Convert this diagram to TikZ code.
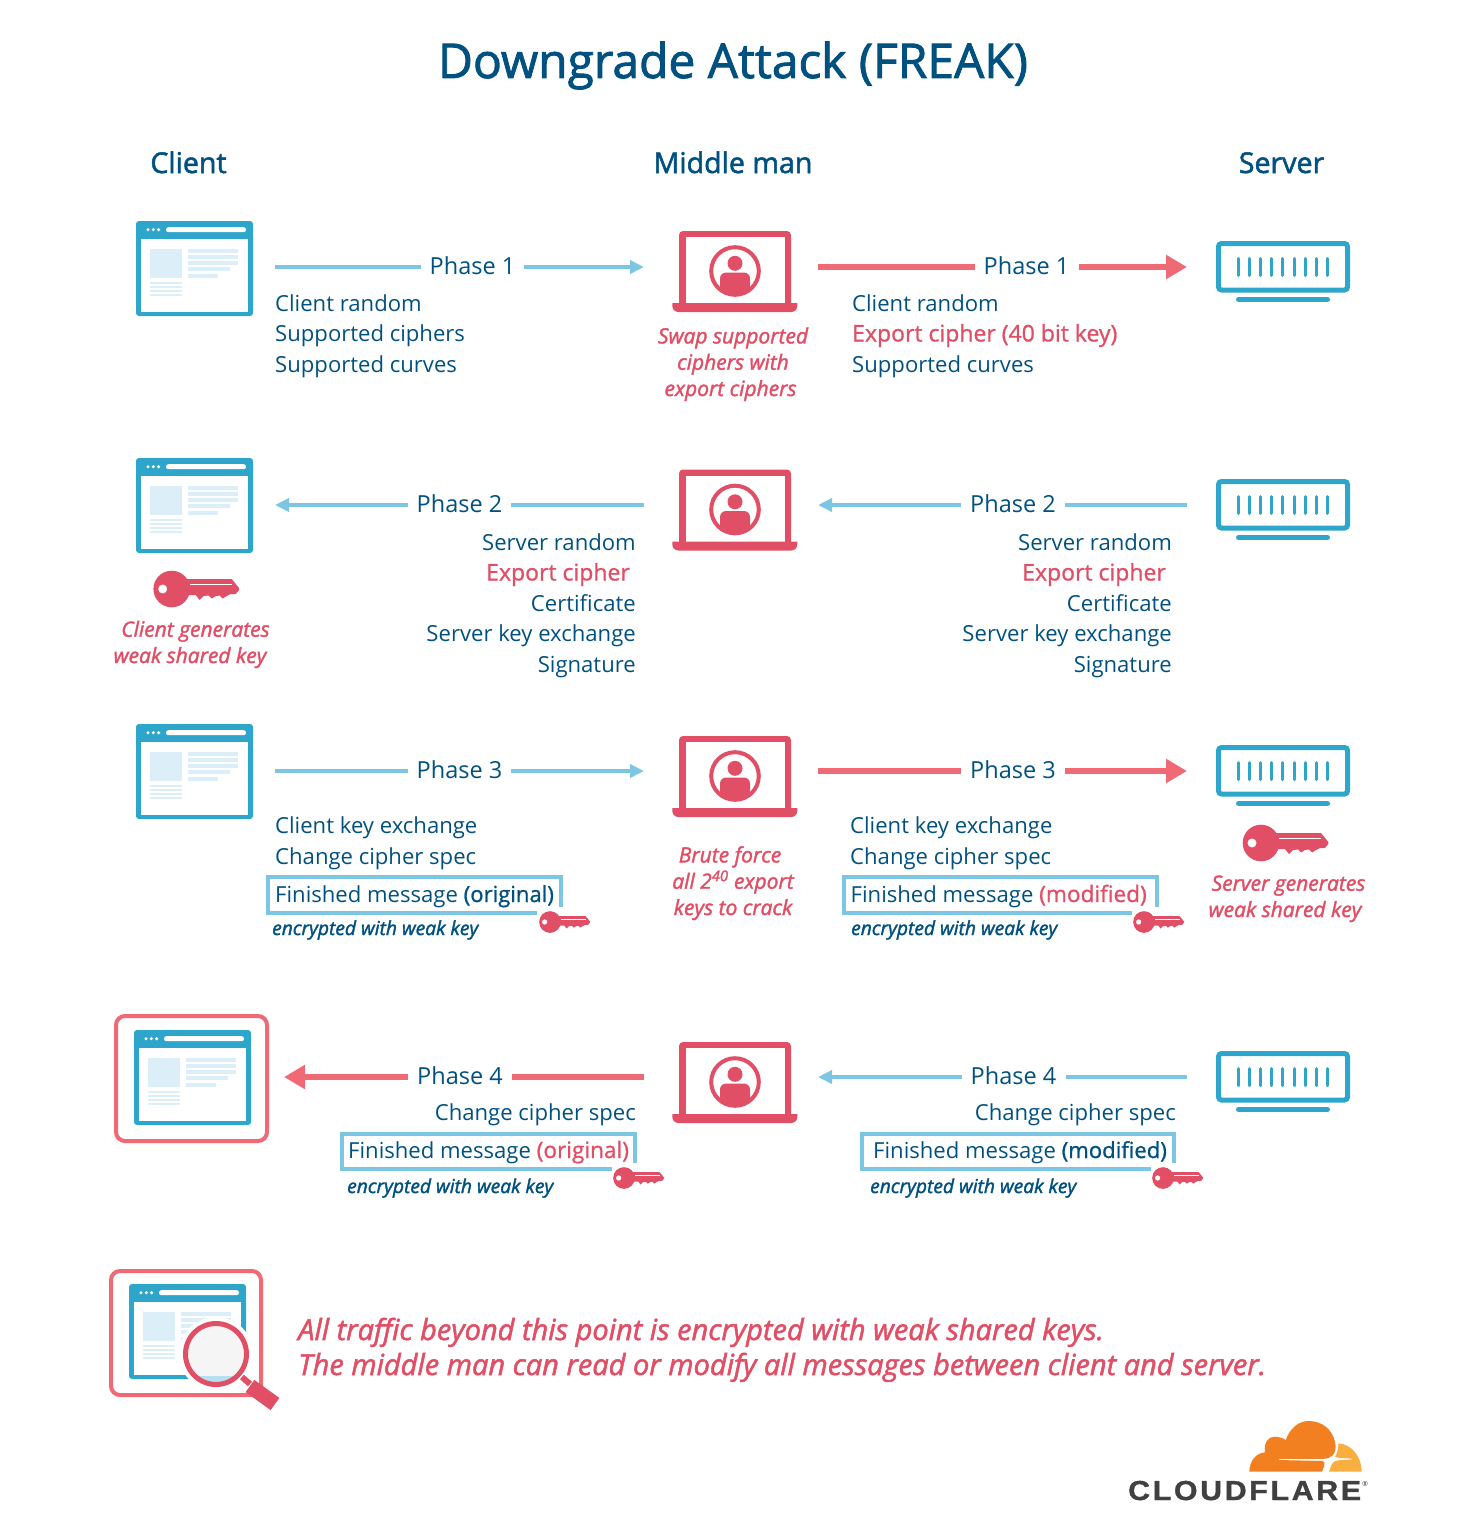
\documentclass[tikz,border=0pt]{standalone}
\usepackage{fontspec}
\setmainfont{Open Sans}
\newfontfamily\semif{Open Sans}[FakeBold=1.8]
\newfontfamily\mediumf{Open Sans}[FakeBold=1.0]
\newfontfamily\logofont{Liberation Sans Bold}[LetterSpace=9,FakeBold=1.2]
\usetikzlibrary{arrows.meta}
\definecolor{ink}{HTML}{00517F}
\definecolor{alert}{HTML}{E04F66}
\definecolor{salmon}{HTML}{EF6A75}
\definecolor{sky}{HTML}{7CC5E3}
\definecolor{steel}{HTML}{2EA6CB}
\definecolor{pale}{HTML}{DCEFF8}
\definecolor{cloudmain}{HTML}{F38020}
\definecolor{cloudside}{HTML}{FAAE40}
\definecolor{wordgrey}{HTML}{404041}
\newcommand{\hot}[1]{\textcolor{alert}{\mediumf\fontsize{23}{30.5}\selectfont #1}}
\newcommand{\hotsm}[1]{\textcolor{alert}{\mediumf\fontsize{22.6}{30.5}\selectfont #1}}
\newcommand{\pad}{\rule{6pt}{0pt}}
\tikzset{
  x=1pt,y=-1pt,
  browser/.pic={
    \fill[steel,rounded corners=3pt] (0,0) rectangle (117,95);
    \fill[white] (5,17.5) rectangle (112,90.5);
    \foreach \u in {12,17.3,22.6} \fill[white] (\u,8.7) circle (1.7);
    \fill[white,rounded corners=2.4pt] (30,6.2) rectangle (110,11.2);
    \fill[pale] (14,27.5) rectangle (45.5,57);
    \fill[pale] (52,27.5) rectangle (102,31.5);
    \fill[pale] (52,33.7) rectangle (102,37.7);
    \fill[pale] (52,40) rectangle (102,44);
    \fill[pale] (52,46.3) rectangle (94,50.3);
    \fill[pale] (52,52.7) rectangle (82,56.7);
    \foreach \u in {60.5,64.5,68.5,72.5} \fill[pale] (14,\u) rectangle (45.5,62.5+\u-60.5);
  },
  laptop/.pic={
    \fill[alert,rounded corners=4pt] (0,76) -- (0,0) -- (112,0) -- (112,76) -- cycle;
    \fill[white] (6.5,6) rectangle (105.5,72);
    \fill[alert] (-6.7,72) [rounded corners=6pt] -- (-6.7,81) -- (118.3,81) [sharp corners] -- (118.3,72) -- cycle;
    \draw[alert,line width=4pt] (56,40) circle (23.8);
    \begin{scope}
      \clip (56,40) circle (23);
      \fill[alert] (56,32.3) circle (7.5);
      \fill[alert,rounded corners=6pt] (41,41.5) rectangle (71,70);
    \end{scope}
  },
  server/.pic={
    \draw[steel,line width=5pt,rounded corners=3pt] (2.5,2.5) rectangle (131.5,49);
    \foreach \i in {0,...,8} \draw[steel,line width=3pt,line cap=round] (22.3+\i*11.17,17.5) -- (22.3+\i*11.17,34.5);
    \draw[steel,line width=5pt,line cap=round] (22.5,58.5) -- (111.5,58.5);
  },
  weakkey/.pic={
    \fill[alert,even odd rule] (0,0) circle (18.3) (-9,0) circle (4.6);
    \fill[alert] (12,-10) -- (60,-10) -- (67.3,-1) -- (67.3,1) -- (64,5) -- (59,5) -- (55,7) -- (51,9.5) -- (48,6.5) -- (44,7)
      -- (40,9.5) -- (37,6.5) -- (32,7) -- (28,11) -- (24,6) -- (12,6) -- cycle;
    \fill[white] (18,-5) rectangle (60,-4);
  },
  msg/.style={font=\fontsize{22.1}{30.5}\selectfont,text=ink,inner sep=0pt,anchor=base west,align=left},
  msgr/.style={msg,anchor=base east,align=right},
  heading/.style={font=\semif\fontsize{28.6}{32}\selectfont,text=ink,inner sep=0pt,anchor=base},
  note/.style={font=\semif\itshape\fontsize{21}{26.3}\selectfont,text=alert,inner sep=0pt,anchor=base,align=center},
  encnote/.style={font=\semif\itshape\fontsize{19.2}{24}\selectfont,text=ink,inner sep=0pt,anchor=base west},
  phase/.style={font=\fontsize{23.5}{28}\selectfont,text=ink,inner xsep=9pt,inner ysep=0pt,text height=14pt,text depth=0pt},
  bluelink/.style={draw=sky,line width=4pt},
  redlink/.style={draw=salmon,line width=6pt},
  bluetip/.style={-{Triangle[length=14pt,width=13pt,fill=sky]}},
  redtip/.style={-{Triangle[length=21pt,width=23pt,fill=salmon]}},
  msgbox/.style={draw=sky,line width=4pt},
  pinkframe/.style={draw=salmon,line width=4pt,rounded corners=9pt},
}
\begin{document}
\begin{tikzpicture}
\useasboundingbox (0,0) rectangle (1480,1536);

% title and column headings
\node[inner sep=0pt,anchor=base,font=\semif\fontsize{47.9}{54}\selectfont,text=ink] (title) at (733,78) {Downgrade Attack (FREAK)};
\node[heading] (hclient) at (188.5,173) {Client};
\node[heading] (hmiddle) at (733,173) {Middle man};
\node[heading] (hserver) at (1281.5,173) {Server};

% phase 1
\pic at (136,221) {browser};
\pic at (679,231) {laptop};
\pic at (1216,241) {server};
\coordinate (a1) at (275,267); \coordinate (a2) at (644,267);
\coordinate (a3) at (818,267); \coordinate (a4) at (1187,267);
\node[phase] (p1l) at (472.5,267) {Phase 1};
\node[phase] (p1r) at (1026.5,267) {Phase 1};
\path[bluelink] (a1) -- (p1l);
\path[bluelink,bluetip] (p1l) -- (a2);
\path[redlink] (a3) -- (p1r);
\path[redlink,redtip] (p1r) -- (a4);
\node[msg] (t1l) at (275,372) {Client random\\Supported ciphers\\Supported curves};
\node[msg] (t1r) at (852,372) {Client random\\\hot{Export cipher (40 bit key)}\\Supported curves};
\node[note] (n1) at (733,396) {Swap supported\\ciphers with\\\hspace*{-5pt}export ciphers};

% phase 2
\pic at (136,458) {browser};
\pic at (679,469.5) {laptop};
\pic at (1216,479) {server};
\pic at (171.7,589) {weakkey};
\coordinate (b1) at (644,505); \coordinate (b2) at (275,505);
\coordinate (b3) at (1187,505); \coordinate (b4) at (818,505);
\node[phase] (p2l) at (459.5,505) {Phase 2};
\node[phase] (p2r) at (1013,505) {Phase 2};
\path[bluelink] (b1) -- (p2l);
\path[bluelink,bluetip] (p2l) -- (b2);
\path[bluelink] (b3) -- (p2r);
\path[bluelink,bluetip] (p2r) -- (b4);
\node[msgr] (t2l) at (636,672) {Server random\\\hot{Export cipher}\pad\\Certificate\\Server key exchange\\Signature};
\node[msgr] (t2r) at (1172,672) {Server random\\\hot{Export cipher}\pad\\Certificate\\Server key exchange\\Signature};
\node[note] (n2) at (190,663) {\hspace*{11pt}Client generates\\weak shared key};

% phase 3
\pic at (136,724) {browser};
\pic at (679,736) {laptop};
\pic at (1216,745) {server};
\pic at (1261,843) {weakkey};
\coordinate (c1) at (275,771); \coordinate (c2) at (644,771);
\coordinate (c3) at (818,771); \coordinate (c4) at (1187,771);
\node[phase] (p3l) at (459.5,771) {Phase 3};
\node[phase] (p3r) at (1013,771) {Phase 3};
\path[bluelink] (c1) -- (p3l);
\path[bluelink,bluetip] (p3l) -- (c2);
\path[redlink] (c3) -- (p3r);
\path[redlink,redtip] (p3r) -- (c4);
\node[msg] (t3l) at (275,864) {Client key exchange\\Change cipher spec};
\node[msg] (t3r) at (850,864) {Client key exchange\\Change cipher spec};
\draw[msgbox] (537,913) -- (268,913) -- (268,877) -- (561,877) -- (561,907);
\node[msg] (f3l) at (275,902) {Finished message {\mediumf(original)}};
\node[encnote] (e3l) at (272,935) {encrypted with weak key};
\pic[scale=.593] at (550,922) {weakkey};
\draw[msgbox] (1132,913) -- (844,913) -- (844,877) -- (1157,877) -- (1157,907);
\node[msg] (f3r) at (850.5,902) {Finished message \hotsm{(modified)}};
\node[encnote] (e3r) at (851,935) {encrypted with weak key};
\pic[scale=.593] at (1144,922) {weakkey};
\node[note] (n3) at (733,915) {\hspace*{-6pt}Brute force\\all 2\textsuperscript{40} export\\keys to crack};
\node[note] (n3s) at (1285,917) {\hspace*{7pt}Server generates\\weak shared key};

% phase 4
\draw[pinkframe] (116,1016) rectangle (267,1141);
\pic at (134,1030) {browser};
\pic at (679,1042) {laptop};
\pic at (1216,1051) {server};
\coordinate (d1) at (644,1077); \coordinate (d2) at (284,1077);
\coordinate (d3) at (1187,1077); \coordinate (d4) at (818,1077);
\node[phase] (p4l) at (460,1077) {Phase 4};
\node[phase] (p4r) at (1013.5,1077) {Phase 4};
\path[redlink] (d1) -- (p4l);
\path[redlink,redtip] (p4l) -- (d2);
\path[bluelink] (d3) -- (p4r);
\path[bluelink,bluetip] (p4r) -- (d4);
\node[msgr] (t4l) at (636,1120) {Change cipher spec};
\node[msgr] (t4r) at (1176,1120) {Change cipher spec};
\draw[msgbox] (612,1169) -- (342,1169) -- (342,1134) -- (635,1134) -- (635,1163);
\node[msg] (f4l) at (348,1158) {Finished message \hotsm{(original)}};
\node[encnote] (e4l) at (347,1193) {encrypted with weak key};
\pic[scale=.593] at (624,1178) {weakkey};
\draw[msgbox] (1151,1169) -- (862,1169) -- (862,1134) -- (1174,1134) -- (1174,1163);
\node[msg] (f4r) at (873,1158) {Finished message {\mediumf(modified)}};
\node[encnote] (e4r) at (870,1193) {encrypted with weak key};
\pic[scale=.593] at (1163,1178) {weakkey};

% closing statement with the inspected browser window
\draw[pinkframe] (111,1271) rectangle (261,1395);
\pic at (129,1284) {browser};
\draw[white,line width=12pt] (236,1375) -- (273,1402);
\fill[white] (216,1354) circle (37);
\begin{scope}
  \clip (216,1354) circle (31);
  \fill[black!4] (216,1354) circle (31);
  \fill[steel!35] (195,1376) rectangle (240,1390);
\end{scope}
\draw[alert,line width=5pt] (216,1354) circle (30.5);
\draw[alert,line width=6pt] (242,1377) -- (250,1384);
\draw[alert,line width=15pt,rounded corners=1pt] (250,1386) -- (275,1404);
\node[inner sep=0pt,anchor=base west,align=left,font=\semif\itshape\fontsize{29}{35}\selectfont,text=alert] (closing) at (298,1375)
  {All traffic beyond this point is encrypted with weak shared keys.\\The middle man can read or modify all messages between client and server.};

% cloud mark and word mark
\fill[cloudmain] (1249.3,1471.7) .. controls (1249.5,1461) and (1256,1453) .. (1265,1452.3)
  .. controls (1263.5,1443) and (1268,1437) .. (1274,1436.7)
  .. controls (1279,1436.7) and (1283,1438) .. (1285.7,1440)
  .. controls (1290,1428) and (1299,1421) .. (1308.3,1421)
  .. controls (1322,1421) and (1332,1429) .. (1335,1441.7)
  .. controls (1336.5,1448) and (1335,1453) .. (1332.5,1455.5)
  .. controls (1330,1458) and (1327,1458.6) .. (1323,1458.8)
  -- (1279,1459) -- (1279,1460) -- (1322,1461)
  .. controls (1325,1461.5) and (1325,1464) .. (1324,1466.5)
  -- (1322,1471.7) -- cycle;
\fill[cloudside] (1338.3,1443.3) .. controls (1351,1444) and (1361.5,1456) .. (1361.7,1471.7)
  -- (1329,1471.7) -- (1331,1466)
  .. controls (1332.5,1462) and (1335,1460.5) .. (1339,1460.3)
  -- (1351.7,1459.5) -- (1351.7,1458.6) -- (1340,1458)
  .. controls (1337,1457.8) and (1335.5,1457) .. (1335,1456.7)
  .. controls (1337.5,1453) and (1338.5,1448) .. (1338.3,1443.3) -- cycle;
\node[inner sep=0pt,anchor=base west,text=wordgrey,font=\logofont\fontsize{27.5}{30}\selectfont,xscale=1.1] (wordmark) at (1128,1500) {CLOUDFLARE};
\node[inner sep=0pt,text=wordgrey,font=\fontsize{7}{8}\selectfont] (regmark) at (1365,1484) {®};
\end{tikzpicture}
\end{document}
